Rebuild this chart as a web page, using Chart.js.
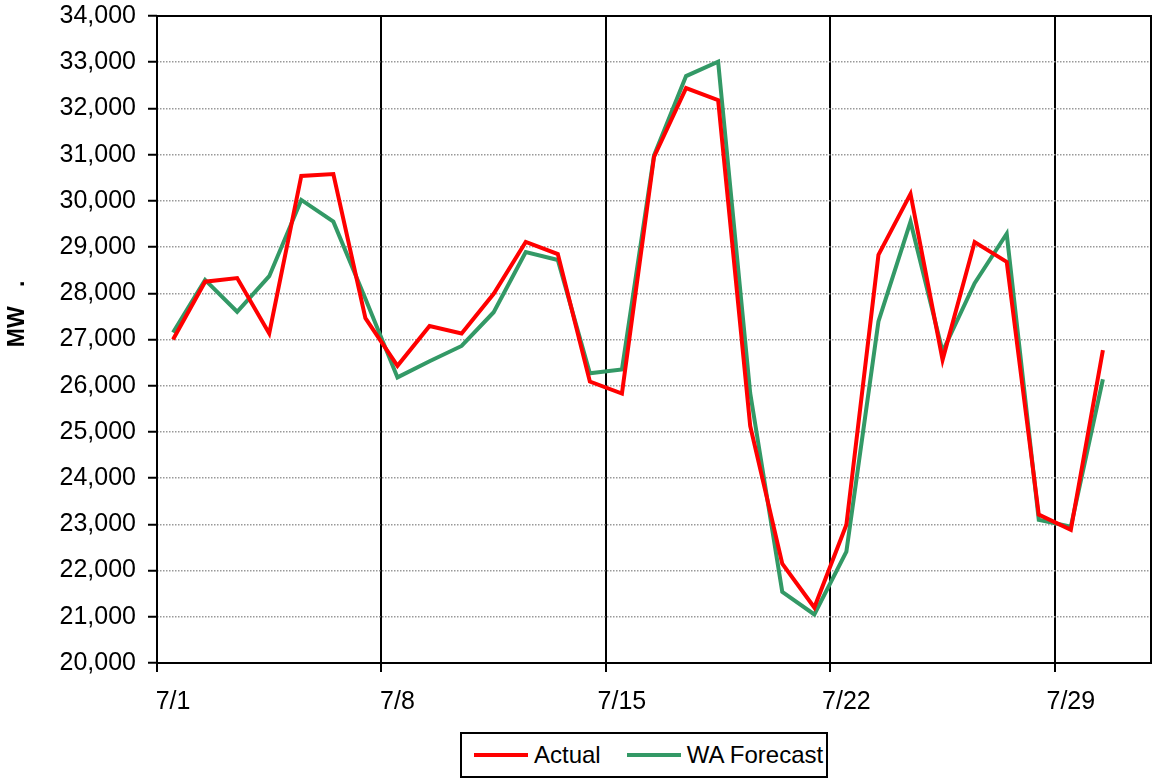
<!DOCTYPE html>
<html>
<head>
<meta charset="utf-8">
<script src="https://cdn.jsdelivr.net/npm/chart.js@4/dist/chart.umd.min.js"></script>
<style>
  body { margin: 0; background: #fff; }
  #wrap { position: relative; width: 1157px; height: 781px; }
  .legend-box {
    position: absolute; left: 460px; top: 732px; width: 368px; height: 46px;
    box-sizing: border-box; border: 2px solid #000; background: #fff;
    display: flex; align-items: center; padding-left: 12px;
    font: 24px 'Liberation Sans', Arial, sans-serif; color: #000;
  }
  .legend-line { display: inline-block; width: 54px; height: 4px; margin-right: 6px; }
</style>
</head>
<body>
<div id="wrap">
  <canvas id="chart"></canvas>
  <div class="legend-box">
    <span class="legend-line" style="background:#ff0000"></span><span style="margin-right:26px">Actual</span>
    <span class="legend-line" style="background:#339966"></span><span>WA Forecast</span>
  </div>
</div>
<script>
// one label per day, 7/31 left empty at the end of the axis
const dates = [];
for (let d = 1; d <= 31; d++) dates.push('7/' + d);

const actual = [27000, 28250, 28330, 27130, 30540, 30580, 27460, 26430, 27290, 27130,
  27990, 29110, 28850, 26090, 25830, 30950, 32440, 32180, 25130, 22150,
  21200, 22990, 28830, 30150, 26560, 29110, 28680, 23210, 22880, 26770];

const waForecast = [27150, 28290, 27600, 28370, 30020, 29550, 27880, 26180, 26530, 26860,
  27590, 28890, 28720, 26270, 26350, 30980, 32700, 33010, 25840, 21540,
  21050, 22410, 27390, 29550, 26740, 28220, 29290, 23100, 22950, 26140];

const yMin = 20000, yMax = 34000, yStep = 1000;

Chart.defaults.font.family = "'Liberation Sans', Arial, sans-serif";
Chart.defaults.color = '#000';

// black frame round the plot area
const plotFrame = {
  id: 'plotFrame',
  beforeDatasetsDraw(chart) {
    const { ctx, chartArea: a } = chart;
    ctx.save();
    ctx.strokeStyle = '#000';
    ctx.lineWidth = 2;
    ctx.strokeRect(a.left, a.top, a.right - a.left, a.bottom - a.top);
    ctx.restore();
  }
};

new Chart(document.getElementById('chart'), {
  type: 'line',
  data: {
    labels: dates,
    datasets: [
      { label: 'Actual', data: actual, borderColor: '#ff0000', borderWidth: 4, pointRadius: 0, fill: false },
      { label: 'WA Forecast', data: waForecast, borderColor: '#339966', borderWidth: 4, pointRadius: 0, fill: false }
    ]
  },
  options: {
    responsive: true,
    maintainAspectRatio: false,
    animation: false,
    layout: { padding: { top: 16, right: 6, left: 0, bottom: 0 } },
    plugins: { legend: { display: false }, tooltip: { enabled: false } },
    scales: {
      x: {
        offset: true,
        grid: {
          offset: true,
          color: c => c.index % 7 === 0 ? '#000' : 'transparent',
          lineWidth: 2,
          tickColor: c => c.index % 7 === 0 ? '#000' : 'transparent',
          tickWidth: 2,
          tickLength: 9
        },
        border: { display: false },
        ticks: {
          autoSkip: false,
          maxRotation: 0,
          padding: 15,
          font: { size: 25 },
          callback: (v, i) => i % 7 === 0 ? dates[i] : ''
        },
        afterFit: s => { s.height = 118; s.paddingLeft = 0; s.paddingRight = 0; }
      },
      y: {
        min: yMin,
        max: yMax,
        grid: {
          color: '#999',
          lineWidth: 1.5,
          tickColor: '#000',
          tickWidth: 2,
          tickLength: 9
        },
        border: { display: false, dash: [1.5, 1.5] },
        ticks: {
          stepSize: yStep,
          padding: 12,
          font: { size: 25 },
          callback: v => v.toLocaleString('en-US')
        },
        title: {
          display: true,
          text: '        MW   .',
          font: { size: 23, weight: 'bold' }
        },
        afterFit: s => { s.width = 157; s.paddingTop = 0; s.paddingBottom = 0; }
      }
    }
  },
  plugins: [plotFrame]
});
</script>
</body>
</html>
